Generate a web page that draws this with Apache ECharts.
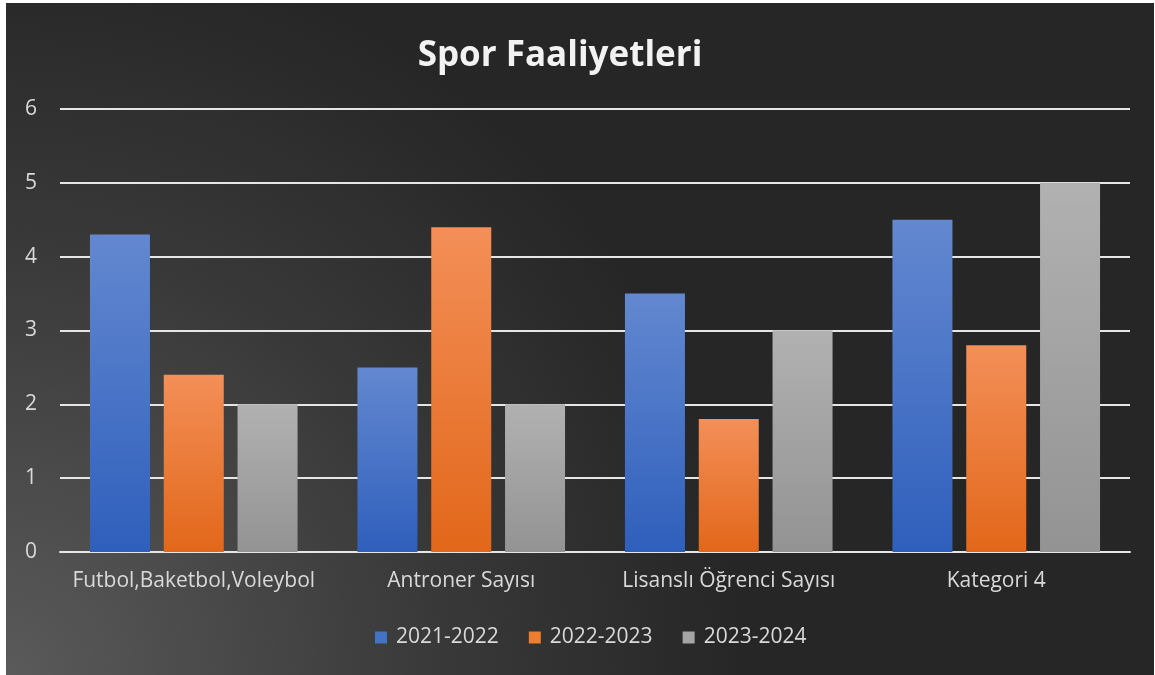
<!DOCTYPE html>
<html>
<head>
<meta charset="utf-8">
<script src="https://cdn.jsdelivr.net/npm/echarts@6/dist/echarts.min.js"></script>
<style>
  html, body { margin: 0; padding: 0; background: #ffffff; }
  #main { position: absolute; left: 6px; top: 3px; width: 1148px; height: 672px; }
</style>
</head>
<body>
<div id="main"></div>
<script>
var categories = ['Futbol,Baketbol,Voleybol', 'Antroner Sayısı', 'Lisanslı Öğrenci Sayısı', 'Kategori 4'];
var seriesNames = ['2021-2022', '2022-2023', '2023-2024'];
var values2122 = [4.3, 2.5, 3.5, 4.5];
var values2223 = [2.4, 4.4, 1.8, 2.8];
var values2324 = [2.0, 2.0, 3.0, 5.0];

var myChart = echarts.init(document.getElementById('main'));

function grad(top, bottom) { // dikey renk geçişi
    return new echarts.graphic.LinearGradient(0, 0, 0, 1, [
        { offset: 0, color: top },
        { offset: 1, color: bottom }
    ]);
}

var font = '"Open Sans", sans-serif';
var colors = [grad('#6388d0', '#2f5fbc'), grad('#f38f58', '#e2671a'), grad('#b1b1b1', '#939393')];
var legendColors = ['#4472c4', '#ed7d31', '#a5a5a5'];
var datas = [values2122, values2223, values2324];

var series = [];
for (var i = 0; i < seriesNames.length; i++) {
    series.push({
        name: seriesNames[i],
        type: 'bar',
        data: datas[i],
        barWidth: 60,
        barGap: '23%',
        itemStyle: {
            color: colors[i],
            shadowColor: 'rgba(0,0,0,0.55)',
            shadowBlur: 8,
            shadowOffsetX: 3,
            shadowOffsetY: 2
        }
    });
}

var option = {
    backgroundColor: new echarts.graphic.RadialGradient(0, 1, 1.1, [
        { offset: 0, color: '#5a5a5a' },
        { offset: 0.6, color: '#383838' },
        { offset: 1, color: '#262626' }
    ]),
    title: {
        text: 'Spor Faaliyetleri',
        left: 549,
        top: 31,
        textAlign: 'center',
        textStyle: {
            color: '#f2f2f2',
            fontSize: 35,
            fontWeight: 'bold',
            fontFamily: font
        }
    },
    legend: {
        data: seriesNames.map(function (n, i) {
            return { name: n, itemStyle: { color: legendColors[i] } };
        }),
        bottom: 22,
        left: 364,
        icon: 'rect',
        itemWidth: 12,
        itemHeight: 12,
        itemGap: 30,
        textStyle: { color: '#d9d9d9', fontSize: 21, fontFamily: font, padding: [0, 0, 0, 4] }
    },
    grid: {
        left: 54,
        right: 24,
        top: 106,
        bottom: 123,
        containLabel: false
    },
    xAxis: {
        type: 'category',
        data: categories,
        axisTick: { show: false },
        axisLine: { lineStyle: { color: '#e6e6e6', width: 2 } },
        axisLabel: { interval: 0, color: '#d9d9d9', fontSize: 21, fontFamily: font, margin: 19 }
    },
    yAxis: {
        type: 'value',
        min: 0,
        max: 6,
        interval: 1,
        axisLine: { show: false },
        axisTick: { show: false },
        splitLine: { lineStyle: { color: '#e6e6e6', width: 2 } },
        axisLabel: { color: '#d9d9d9', fontSize: 21, fontFamily: font, margin: 23 }
    },
    series: series
};
myChart.setOption(option);
</script>
</body>
</html>
